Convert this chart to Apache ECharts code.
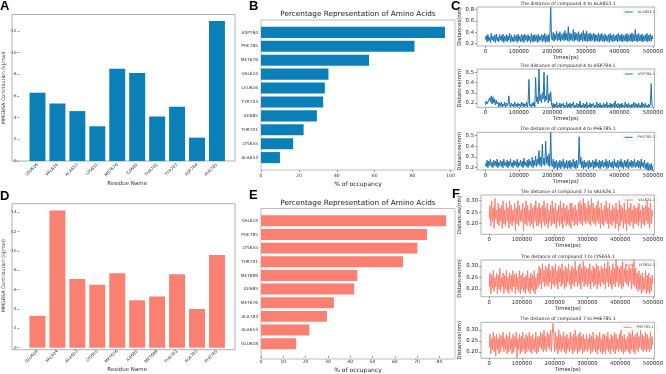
<!DOCTYPE html>
<html>
<head>
<meta charset="utf-8">
<script src="https://cdn.jsdelivr.net/npm/echarts@6/dist/echarts.min.js"></script>
<style>
  html, body { margin: 0; padding: 0; background: #fff; }
  #chart { width: 666px; height: 374px; }
</style>
</head>
<body>
<div id="chart"></div>
<script>
// A / D : MMGBSA per-residue contribution
const residuesA = ['LEU616', 'VAL624', 'ALA653', 'LYS655', 'MET676', 'ILE685', 'THR701', 'TYR703', 'ASP784', 'PHE785']
const energyA = [-6.3, -5.3, -4.6, -3.2, -8.5, -8.1, -4.1, -5.0, -2.15, -12.9]
const energyTicksA = [-12, -10, -8, -6, -4, -2, 0]
const residuesD = ['GLU618', 'VAL624', 'ALA653', 'LYS655', 'MET676', 'ILE685', 'MET699', 'THR701', 'ALA783', 'PHE785']
const energyD = [-3.3, -14.2, -7.1, -6.5, -7.7, -4.9, -5.3, -7.6, -4.0, -9.6]
const energyTicksD = [-14, -12, -10, -8, -6, -4, -2, 0]

// B / E : occupancy
const residuesB = ['ASP784', 'PHE785', 'MET676', 'VAL624', 'LEU616', 'TYR703', 'ILE685', 'THR701', 'LYS655', 'ALA653']
const occupancyB = [97.1, 81, 57, 35.6, 33.7, 32.8, 29.5, 22.5, 17, 10]
const occTicksB = [0, 20, 40, 60, 80, 100]
const residuesE = ['VAL624', 'PHE785', 'LYS655', 'THR701', 'MET699', 'ILE685', 'MET676', 'ALA783', 'ALA653', 'GLU618']
const occupancyE = [83, 74.4, 70.1, 63.7, 43.2, 41.8, 32.7, 29.6, 21.7, 15.8]
const occTicksE = [0, 10, 20, 30, 40, 50, 60, 70, 80]

// C / F : distances, one sample every 2500 ps (rows of 50000 ps)
const timeStep = 2500
const timeTicks = [0, 100000, 200000, 300000, 400000, 500000]
const distC1 = [
  0.27, 0.34, 0.23, 0.36, 0.25, 0.31, 0.22, 0.38, 0.26, 0.33, 0.24, 0.35, 0.22, 0.37, 0.25, 0.32, 0.23, 0.36, 0.26, 0.34,
  0.24, 0.37, 0.22, 0.33, 0.25, 0.36, 0.23, 0.34, 0.26, 0.38, 0.22, 0.35, 0.24, 0.32, 0.23, 0.36, 0.25, 0.34, 0.22, 0.37,
  0.25, 0.33, 0.23, 0.36, 0.24, 0.35, 0.22, 0.37, 0.26, 0.34, 0.23, 0.36, 0.25, 0.33, 0.22, 0.38, 0.24, 0.35, 0.23, 0.36,
  0.25, 0.34, 0.22, 0.37, 0.24, 0.33, 0.26, 0.36, 0.23, 0.35, 0.25, 0.38, 0.22, 0.34, 0.24, 0.36, 0.23, 0.37, 0.84, 0.30,
  0.26, 0.40, 0.24, 0.37, 0.27, 0.42, 0.25, 0.38, 0.26, 0.41, 0.24, 0.36, 0.27, 0.39, 0.25, 0.43, 0.26, 0.38, 0.25, 0.50,
  0.24, 0.39, 0.26, 0.37, 0.25, 0.45, 0.24, 0.40, 0.26, 0.38, 0.25, 0.41, 0.23, 0.37, 0.26, 0.39, 0.24, 0.43, 0.25, 0.38,
  0.24, 0.42, 0.23, 0.37, 0.25, 0.39, 0.24, 0.36, 0.26, 0.38, 0.23, 0.37, 0.25, 0.35, 0.24, 0.39, 0.23, 0.36, 0.25, 0.38,
  0.24, 0.35, 0.23, 0.37, 0.25, 0.34, 0.24, 0.36, 0.22, 0.38, 0.25, 0.35, 0.23, 0.37, 0.24, 0.34, 0.25, 0.36, 0.23, 0.38,
  0.25, 0.35, 0.24, 0.37, 0.23, 0.34, 0.25, 0.36, 0.24, 0.38, 0.23, 0.35, 0.25, 0.37, 0.24, 0.39, 0.23, 0.36, 0.25, 0.45,
  0.24, 0.36, 0.23, 0.38, 0.25, 0.35, 0.24, 0.37, 0.23, 0.34, 0.25, 0.36, 0.24, 0.38, 0.23, 0.35, 0.25, 0.37, 0.24, 0.34,
  0.28
]
const distC2 = [
  0.18, 0.22, 0.19, 0.21, 0.20, 0.25, 0.21, 0.27, 0.19, 0.26, 0.20, 0.24, 0.18, 0.23, 0.19, 0.21, 0.16, 0.20, 0.17, 0.21,
  0.16, 0.19, 0.17, 0.21, 0.16, 0.20, 0.17, 0.19, 0.27, 0.18, 0.16, 0.20, 0.17, 0.19, 0.16, 0.21, 0.17, 0.19, 0.16, 0.20,
  0.17, 0.19, 0.16, 0.21, 0.17, 0.20, 0.16, 0.19, 0.17, 0.21, 0.16, 0.20, 0.43, 0.17, 0.19, 0.16, 0.20, 0.17, 0.21, 0.16,
  0.45, 0.21, 0.26, 0.19, 0.53, 0.22, 0.28, 0.20, 0.30, 0.24, 0.50, 0.21, 0.27, 0.23, 0.47, 0.20, 0.29, 0.22, 0.31, 0.19,
  0.16, 0.20, 0.15, 0.19, 0.16, 0.21, 0.15, 0.18, 0.16, 0.20, 0.15, 0.19, 0.17, 0.20, 0.15, 0.18, 0.16, 0.21, 0.15, 0.19,
  0.16, 0.20, 0.15, 0.19, 0.17, 0.21, 0.15, 0.18, 0.16, 0.20, 0.15, 0.19, 0.16, 0.22, 0.15, 0.18, 0.16, 0.20, 0.15, 0.19,
  0.16, 0.21, 0.15, 0.18, 0.16, 0.20, 0.15, 0.19, 0.17, 0.20, 0.15, 0.18, 0.16, 0.21, 0.15, 0.19, 0.16, 0.20, 0.15, 0.18,
  0.16, 0.20, 0.15, 0.19, 0.16, 0.21, 0.15, 0.18, 0.16, 0.20, 0.15, 0.19, 0.16, 0.20, 0.15, 0.22, 0.16, 0.19, 0.15, 0.20,
  0.16, 0.19, 0.15, 0.20, 0.16, 0.18, 0.15, 0.21, 0.16, 0.19, 0.15, 0.20, 0.16, 0.18, 0.15, 0.19, 0.16, 0.21, 0.15, 0.20,
  0.16, 0.19, 0.15, 0.20, 0.16, 0.18, 0.15, 0.21, 0.16, 0.19, 0.15, 0.20, 0.16, 0.18, 0.15, 0.19, 0.16, 0.20, 0.39, 0.17,
  0.17
]
const distC3 = [
  0.24, 0.21, 0.27, 0.20, 0.26, 0.22, 0.28, 0.21, 0.25, 0.20, 0.27, 0.22, 0.26, 0.21, 0.28, 0.20, 0.25, 0.22, 0.27, 0.21,
  0.26, 0.20, 0.28, 0.22, 0.25, 0.21, 0.27, 0.20, 0.26, 0.22, 0.28, 0.21, 0.25, 0.20, 0.27, 0.22, 0.26, 0.21, 0.28, 0.20,
  0.25, 0.22, 0.27, 0.21, 0.26, 0.20, 0.29, 0.22, 0.25, 0.21, 0.27, 0.20, 0.28, 0.22, 0.26, 0.21, 0.30, 0.20, 0.27, 0.22,
  0.31, 0.21, 0.28, 0.23, 0.36, 0.22, 0.30, 0.21, 0.42, 0.23, 0.29, 0.22, 0.45, 0.24, 0.31, 0.22, 0.33, 0.21, 0.53, 0.23,
  0.21, 0.28, 0.19, 0.26, 0.20, 0.27, 0.18, 0.25, 0.20, 0.27, 0.19, 0.26, 0.21, 0.28, 0.19, 0.25, 0.20, 0.27, 0.19, 0.26,
  0.20, 0.27, 0.19, 0.25, 0.21, 0.28, 0.20, 0.26, 0.19, 0.27, 0.20, 0.25, 0.49, 0.23, 0.30, 0.20, 0.26, 0.19, 0.27, 0.20,
  0.25, 0.21, 0.26, 0.19, 0.27, 0.20, 0.25, 0.21, 0.27, 0.19, 0.26, 0.20, 0.28, 0.21, 0.25, 0.20, 0.27, 0.19, 0.26, 0.21,
  0.27, 0.20, 0.25, 0.21, 0.28, 0.19, 0.26, 0.20, 0.27, 0.21, 0.25, 0.20, 0.26, 0.19, 0.28, 0.21, 0.25, 0.20, 0.27, 0.19,
  0.26, 0.21, 0.28, 0.20, 0.25, 0.19, 0.27, 0.21, 0.26, 0.20, 0.28, 0.19, 0.25, 0.21, 0.27, 0.20, 0.26, 0.21, 0.28, 0.20,
  0.25, 0.21, 0.27, 0.20, 0.26, 0.19, 0.28, 0.21, 0.25, 0.20, 0.27, 0.19, 0.24, 0.18, 0.25, 0.17, 0.23, 0.18, 0.24, 0.17,
  0.22
]
const distF1 = [
  0.22, 0.28, 0.19, 0.30, 0.21, 0.27, 0.18, 0.31, 0.22, 0.26, 0.20, 0.29, 0.19, 0.27, 0.21, 0.28, 0.18, 0.30, 0.20, 0.26,
  0.19, 0.29, 0.21, 0.27, 0.18, 0.30, 0.20, 0.28, 0.19, 0.26, 0.21, 0.29, 0.17, 0.27, 0.20, 0.30, 0.19, 0.28, 0.21, 0.26,
  0.21, 0.29, 0.17, 0.27, 0.20, 0.30, 0.19, 0.28, 0.21, 0.26, 0.19, 0.29, 0.20, 0.27, 0.18, 0.28, 0.21, 0.30, 0.19, 0.27,
  0.19, 0.29, 0.20, 0.27, 0.18, 0.28, 0.21, 0.30, 0.19, 0.27, 0.20, 0.29, 0.18, 0.26, 0.21, 0.28, 0.19, 0.30, 0.20, 0.27,
  0.20, 0.29, 0.18, 0.26, 0.21, 0.28, 0.19, 0.30, 0.20, 0.27, 0.18, 0.29, 0.21, 0.27, 0.19, 0.28, 0.20, 0.26, 0.19, 0.29,
  0.18, 0.29, 0.21, 0.27, 0.19, 0.28, 0.20, 0.26, 0.19, 0.29, 0.21, 0.30, 0.20, 0.28, 0.19, 0.31, 0.21, 0.29, 0.20, 0.27,
  0.21, 0.30, 0.20, 0.28, 0.19, 0.31, 0.21, 0.29, 0.20, 0.27, 0.19, 0.28, 0.21, 0.30, 0.20, 0.27, 0.18, 0.29, 0.20, 0.26,
  0.19, 0.28, 0.21, 0.30, 0.20, 0.27, 0.18, 0.29, 0.20, 0.26, 0.19, 0.28, 0.21, 0.27, 0.18, 0.29, 0.20, 0.26, 0.17, 0.30,
  0.19, 0.28, 0.21, 0.27, 0.18, 0.29, 0.20, 0.26, 0.17, 0.30, 0.20, 0.27, 0.19, 0.29, 0.21, 0.26, 0.18, 0.28, 0.20, 0.27,
  0.20, 0.27, 0.19, 0.29, 0.21, 0.26, 0.18, 0.28, 0.20, 0.27, 0.19, 0.28, 0.21, 0.30, 0.20, 0.27, 0.18, 0.29, 0.20, 0.26,
  0.23
]
const distF2 = [
  0.21, 0.27, 0.18, 0.26, 0.20, 0.28, 0.19, 0.25, 0.21, 0.27, 0.18, 0.26, 0.20, 0.29, 0.19, 0.25, 0.21, 0.27, 0.18, 0.26,
  0.20, 0.28, 0.19, 0.25, 0.18, 0.27, 0.20, 0.26, 0.19, 0.28, 0.21, 0.26, 0.18, 0.27, 0.20, 0.25, 0.19, 0.28, 0.18, 0.26,
  0.20, 0.27, 0.19, 0.25, 0.18, 0.26, 0.20, 0.28, 0.19, 0.25, 0.18, 0.27, 0.20, 0.26, 0.19, 0.28, 0.18, 0.25, 0.20, 0.27,
  0.21, 0.30, 0.22, 0.29, 0.20, 0.31, 0.23, 0.28, 0.21, 0.30, 0.22, 0.29, 0.21, 0.31, 0.23, 0.28, 0.20, 0.30, 0.22, 0.29,
  0.21, 0.31, 0.22, 0.28, 0.20, 0.30, 0.23, 0.29, 0.21, 0.31, 0.22, 0.28, 0.20, 0.30, 0.21, 0.29, 0.23, 0.31, 0.22, 0.28,
  0.20, 0.30, 0.22, 0.29, 0.21, 0.32, 0.23, 0.28, 0.21, 0.30, 0.22, 0.31, 0.20, 0.29, 0.23, 0.32, 0.21, 0.30, 0.22, 0.29,
  0.21, 0.29, 0.22, 0.31, 0.20, 0.28, 0.23, 0.30, 0.21, 0.29, 0.22, 0.31, 0.20, 0.30, 0.22, 0.28, 0.21, 0.30, 0.23, 0.29,
  0.22, 0.31, 0.20, 0.29, 0.23, 0.32, 0.21, 0.30, 0.22, 0.28, 0.20, 0.31, 0.22, 0.29, 0.21, 0.33, 0.23, 0.30, 0.21, 0.29,
  0.22, 0.30, 0.20, 0.32, 0.21, 0.29, 0.23, 0.31, 0.22, 0.28, 0.21, 0.30, 0.23, 0.29, 0.20, 0.31, 0.22, 0.33, 0.21, 0.29,
  0.20, 0.27, 0.19, 0.28, 0.20, 0.26, 0.18, 0.27, 0.19, 0.25, 0.20, 0.28, 0.18, 0.26, 0.19, 0.27, 0.18, 0.25, 0.19, 0.26,
  0.22
]
const distF3 = [
  0.22, 0.28, 0.19, 0.26, 0.21, 0.29, 0.20, 0.27, 0.18, 0.28, 0.21, 0.26, 0.19, 0.28, 0.20, 0.27, 0.22, 0.29, 0.20, 0.26,
  0.21, 0.28, 0.19, 0.27, 0.20, 0.29, 0.21, 0.26, 0.19, 0.28, 0.20, 0.27, 0.22, 0.29, 0.17, 0.26, 0.21, 0.28, 0.19, 0.27,
  0.20, 0.29, 0.21, 0.26, 0.19, 0.28, 0.20, 0.27, 0.21, 0.29, 0.20, 0.27, 0.19, 0.28, 0.21, 0.26, 0.20, 0.29, 0.19, 0.27,
  0.20, 0.27, 0.22, 0.29, 0.21, 0.28, 0.20, 0.30, 0.21, 0.27, 0.20, 0.29, 0.22, 0.28, 0.21, 0.30, 0.20, 0.28, 0.33, 0.27,
  0.20, 0.29, 0.21, 0.27, 0.19, 0.30, 0.21, 0.28, 0.20, 0.27, 0.21, 0.29, 0.20, 0.27, 0.19, 0.28, 0.21, 0.26, 0.20, 0.29,
  0.21, 0.27, 0.19, 0.28, 0.20, 0.30, 0.21, 0.27, 0.19, 0.28, 0.20, 0.29, 0.21, 0.27, 0.19, 0.28, 0.20, 0.26, 0.21, 0.28,
  0.20, 0.26, 0.21, 0.28, 0.19, 0.27, 0.20, 0.29, 0.21, 0.26, 0.20, 0.28, 0.19, 0.27, 0.21, 0.29, 0.20, 0.26, 0.19, 0.28,
  0.20, 0.28, 0.19, 0.27, 0.21, 0.29, 0.20, 0.26, 0.19, 0.28, 0.21, 0.27, 0.20, 0.29, 0.19, 0.28, 0.21, 0.26, 0.20, 0.28,
  0.21, 0.30, 0.20, 0.27, 0.19, 0.28, 0.20, 0.26, 0.21, 0.27, 0.20, 0.29, 0.19, 0.28, 0.21, 0.30, 0.20, 0.27, 0.19, 0.28,
  0.21, 0.29, 0.20, 0.27, 0.22, 0.30, 0.21, 0.28, 0.20, 0.27, 0.21, 0.29, 0.20, 0.28, 0.21, 0.26, 0.20, 0.29, 0.21, 0.27,
  0.23
]
const distTicksC1 = [0.2, 0.4, 0.6, 0.8]
const distTicksC2 = [0.2, 0.3, 0.4, 0.5]
const distTicksF = [0.20, 0.25, 0.30]

const BLUE = '#0a7fb8'
const LINE_BLUE = '#1b72ad'
const SALMON = '#fa8072'
const FONT = 'DejaVu Sans'

const grid = [], xAxis = [], yAxis = [], series = [], legend = [], graphic = []

// empty grid used only to draw the matplotlib-style box
const frame = (left, top, width, height, color) => {
  const g = grid.length
  grid.push({ left, top, width, height, show: true, borderColor: color, borderWidth: 0.8, backgroundColor: 'transparent' })
  xAxis.push({ gridIndex: g, type: 'value', show: false })
  yAxis.push({ gridIndex: g, type: 'value', show: false })
}

const text = (x, y, str, font, align = 'left', fill = '#000') => {
  graphic.push({ type: 'text', x, y, silent: true, style: { text: str, font, fill, align, verticalAlign: 'top' } })
}

const energyPanel = (top, height, names, values, ticks, min, color) => {
  const left = 12, width = 223
  const pad = width * 0.39 / 10.78
  frame(left, top, width, height, '#9d9d9d')
  const g = grid.length
  grid.push({ left: left + pad, top, width: width - 2 * pad, height })
  xAxis.push({
    gridIndex: g, type: 'category', data: names,
    axisLine: { show: false, onZero: false },
    axisTick: { alignWithLabel: true, length: 2, lineStyle: { color: '#555', width: 0.6 } },
    axisLabel: { rotate: 45, fontSize: 4.2, color: '#333', margin: 3, interval: 0, fontFamily: FONT },
    name: 'Residue Name', nameLocation: 'middle', nameGap: 19,
    nameTextStyle: { fontSize: 5.5, color: '#333', fontFamily: FONT }
  })
  yAxis.push({
    gridIndex: g, type: 'value', inverse: true, min, max: 0, offset: pad,
    axisLine: { show: false, onZero: false }, splitLine: { show: false },
    axisTick: { show: true, length: 2, customValues: ticks, lineStyle: { color: '#555', width: 0.6 } },
    axisLabel: { customValues: ticks, fontSize: 4, color: '#333', margin: 3, fontFamily: FONT },
    name: 'MMGBSA Contribution (kJ/mol)', nameLocation: 'middle', nameGap: 8,
    nameTextStyle: { fontSize: 4.8, color: '#333', fontFamily: FONT }
  })
  series.push({ type: 'bar', xAxisIndex: g, yAxisIndex: g, data: values, barCategoryGap: '20%', itemStyle: { color } })
}

const occupancyPanel = (top, height, names, values, ticks, max, color) => {
  const left = 261, width = 194
  const pad = height * 0.39 / 10.78
  frame(left, top, width, height, '#bba9a9')
  const g = grid.length
  grid.push({ left, top: top + pad, width, height: height - 2 * pad })
  xAxis.push({
    gridIndex: g, type: 'value', min: 0, max, offset: pad,
    axisLine: { show: false, onZero: false }, splitLine: { show: false },
    axisTick: { show: true, length: 2, customValues: ticks, lineStyle: { color: '#555', width: 0.6 } },
    axisLabel: { customValues: ticks, fontSize: 4.5, color: '#333', margin: 3, fontFamily: FONT },
    name: '% of occupancy', nameLocation: 'middle', nameGap: 11,
    nameTextStyle: { fontSize: 6, color: '#222', fontFamily: FONT }
  })
  yAxis.push({
    gridIndex: g, type: 'category', inverse: true, data: names,
    axisLine: { show: false, onZero: false },
    axisTick: { alignWithLabel: true, length: 2, lineStyle: { color: '#555', width: 0.6 } },
    axisLabel: { fontSize: 4.3, color: '#333', margin: 3, fontFamily: FONT }
  })
  series.push({ type: 'bar', xAxisIndex: g, yAxisIndex: g, data: values, barCategoryGap: '20%', itemStyle: { color } })
  text(358, top - 9, 'Percentage Representation of Amino Acids', `7.3px "${FONT}"`, 'center', '#222')
}

const distancePanel = (left, top, height, title, name, values, ticks, yMin, yMax, color, digits) => {
  const g = grid.length
  grid.push({ left, right: 7, top, height, show: true, borderColor: '#9d9d9d', borderWidth: 0.8, backgroundColor: 'transparent' })
  xAxis.push({
    gridIndex: g, type: 'value', min: -25000, max: 505000,
    axisLine: { show: false, onZero: false }, splitLine: { show: false },
    axisTick: { show: true, length: 2, customValues: timeTicks, lineStyle: { color: '#555', width: 0.6 } },
    axisLabel: { customValues: timeTicks, fontSize: 5.3, color: '#222', margin: 3, fontFamily: FONT,
      formatter: v => String(v) },
    name: 'Times(ps)', nameLocation: 'middle', nameGap: 9,
    nameTextStyle: { fontSize: 5.3, color: '#222', fontFamily: FONT }
  })
  yAxis.push({
    gridIndex: g, type: 'value', min: yMin, max: yMax,
    axisLine: { show: false, onZero: false }, splitLine: { show: false },
    axisTick: { show: true, length: 2, customValues: ticks, lineStyle: { color: '#555', width: 0.6 } },
    axisLabel: { customValues: ticks, fontSize: 5.3, color: '#222', margin: 3, fontFamily: FONT,
      formatter: v => v.toFixed(digits) },
    name: 'Distances(nm)', nameLocation: 'middle', nameGap: digits === 2 ? 18 : 14,
    nameTextStyle: { fontSize: 5.3, color: '#222', fontFamily: FONT }
  })
  series.push({
    type: 'line', name, xAxisIndex: g, yAxisIndex: g,
    data: values.map((v, i) => [i * timeStep, v]),
    showSymbol: false, lineStyle: { width: 1, color }, itemStyle: { color }
  })
  legend.push({
    data: [{ name, itemStyle: { color } }], right: 9, top: top + 2,
    icon: 'rect', itemWidth: 8, itemHeight: 1, itemGap: 2, selectedMode: false,
    padding: [1, 2], borderColor: '#ddd', borderWidth: 0.5,
    textStyle: { fontSize: 3.6, color: '#444', fontFamily: FONT }
  })
  text(568, top - 6, title, `4.6px "${FONT}"`, 'center', '#222')
}

energyPanel(14.5, 146.5, residuesA, energyA, energyTicksA, -13.5, BLUE)
energyPanel(203.7, 146, residuesD, energyD, energyTicksD, -14.9, SALMON)
occupancyPanel(20, 150, residuesB, occupancyB, occTicksB, 102.4, BLUE)
occupancyPanel(208.5, 150.5, residuesE, occupancyE, occTicksE, 87, SALMON)

distancePanel(477, 7, 39, 'The distance of compound 4 to ALA653.1', 'ALA653.1', distC1, distTicksC1, 0.158, 0.845, LINE_BLUE, 1)
distancePanel(477, 69, 38.3, 'The distance of compound 4 to ASP784.1', 'ASP784.1', distC2, distTicksC2, 0.158, 0.532, LINE_BLUE, 1)
distancePanel(477, 132.3, 37.7, 'The distance of compound 4 to PHE785.1', 'PHE785.1', distC3, distTicksC2, 0.178, 0.532, LINE_BLUE, 1)
distancePanel(481, 195, 39.3, 'The distance of compound 7 to VAL624.1', 'VAL624.1', distF1, distTicksF, 0.154, 0.325, SALMON, 2)
distancePanel(481, 260, 36.7, 'The distance of compound 7 to LYS655.1', 'LYS655.1', distF2, distTicksF, 0.167, 0.326, SALMON, 2)
distancePanel(481, 322.3, 36, 'The distance of compound 7 to PHE785.1', 'PHE785.1 ', distF3, distTicksF, 0.17, 0.335, SALMON, 2)

const letterFont = 'bold 13px "Liberation Sans"'
text(0, 0, 'A', letterFont)
text(249, 0, 'B', letterFont)
text(451, 0, 'C', letterFont)
text(0, 190, 'D', letterFont)
text(249, 189, 'E', letterFont)
text(452, 188, 'F', letterFont)

const chart = echarts.init(document.getElementById('chart'))
chart.setOption({
  animation: false,
  grid, xAxis, yAxis, series, legend, graphic
})
</script>
</body>
</html>
